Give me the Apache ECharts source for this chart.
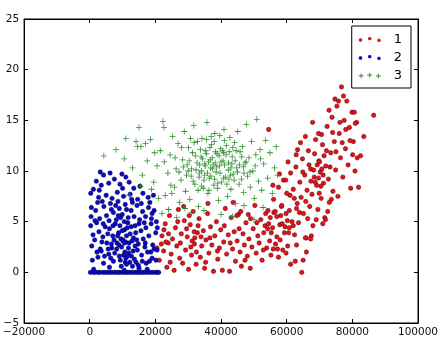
<!DOCTYPE html>
<html><head><meta charset="utf-8">
<script src="https://cdn.jsdelivr.net/npm/echarts@6/dist/echarts.min.js"></script>
<style>html,body{margin:0;padding:0;background:#fff}#c{width:447px;height:344px}</style>
</head><body><div id="c"></div>
<script>
const seriesNames = ['1','2','3'];
const xTicks = [-20000, 0, 20000, 40000, 60000, 80000, 100000];
const yTicks = [-5, 0, 5, 10, 15, 20, 25];

const points1 = [
[20500,2.4],[21200,1.2],[22000,3.6],[22500,2.1],[23000,4.8],[23500,0.5],[23900,2.9],[24300,5.6],[24800,1.8],[25200,3.3],[25700,0.2],[26100,4.4],[26500,2.6],[27000,6.2],[27400,1.4],[27900,3.8],[28300,0.9],[28800,5.1],[29200,2.2],[29700,3.5],[30100,0.3],[30600,4.7],[31000,1.7],[31500,6.0],[31900,2.8],[32400,0.8],[32800,3.9],[33300,5.3],[33700,1.5],[34100,2.6],[34600,4.1],[35000,0.4],[35400,3.2],[35900,5.8],[36300,1.9],[36800,4.5],[37200,2.7],[37700,0.1],[38100,3.6],[38600,5.0],[39000,1.3],[39500,2.4],[39900,4.2],[40400,0.2],[40800,3.0],[41300,6.3],[41700,1.8],[42200,3.7],[42600,0.1],[43100,5.4],[43500,2.3],[44000,4.0],[44400,1.1],[44900,3.1],[45300,5.7],[45800,2.0],[46200,0.6],[46700,3.8],[47100,2.7],[47600,4.9],[48000,1.6],[48500,3.3],[48900,0.4],[49400,2.5],[49800,4.3],[50300,6.6],[50700,1.9],[51200,3.6],[51600,2.9],[52100,5.2],[52500,1.2],[53000,3.9],[53400,4.6],[53900,2.4],[54300,6.1],[54800,3.1],[55200,1.7],[55700,4.4],[56100,5.9],[56600,2.8],[57000,3.5],[57500,1.5],[57900,4.7],[58400,6.5],[58800,2.2],[59300,3.9],[60200,5.1],[61200,0.8],[62000,4.6],[63000,6.3],[64600,0.0],
[31200,3.1],[31800,4.0],[32500,2.0],[33000,4.6],[30800,2.5],[32000,3.4],[54500,4.8],[55000,5.4],[55300,3.9],[54200,4.3],[53600,5.8],[24000,3.8],[23200,3.0],[22600,4.2],[26800,5.0],[44800,5.6],[46000,6.0],[48300,5.7],[43700,6.9],[36000,6.8],[28600,6.5],
[21800,2.8],[24500,1.0],[27600,2.9],[29500,4.3],[33900,3.5],[36600,3.4],[38900,2.1],[41000,4.6],[42800,2.9],[45500,4.3],[47300,1.2],[49000,5.3],[50900,4.9],[52900,2.2],[55900,2.3],[58200,5.6],[60800,4.4],[59800,1.9],[35300,1.0],[30300,5.6],
[56000,7.2],[57000,5.5],[57500,8.4],[58000,3.2],[58500,6.6],[59000,9.1],[59500,4.5],[60000,7.8],[60300,2.6],[60800,6.1],[61200,9.8],[61600,5.0],[62000,8.2],[62400,3.7],[62800,10.4],[63200,6.8],[63600,4.9],[64000,8.9],[64400,7.4],[64800,11.2],[65100,5.8],[65500,9.6],[65900,3.4],[66200,8.1],[66600,12.0],[67000,6.5],[67300,10.2],[67700,7.7],[68000,4.6],[68400,9.4],[68800,13.1],[69100,8.6],[69500,6.2],[69800,11.0],[70200,9.9],[70500,7.3],[70900,12.6],[71200,8.8],[71600,5.4],[71900,10.5],[72300,14.4],[72700,9.2],[73000,6.9],[73400,11.8],[73800,15.3],[74100,8.0],[74500,12.9],[74900,10.1],[75300,16.4],[75600,7.5],[76000,13.7],[76400,11.3],[76700,18.3],[77100,9.4],[77500,15.0],[77900,12.2],[78300,16.9],[78700,10.6],[79100,14.3],[79500,8.3],[79900,15.8],[80300,12.9],[80800,10.0],[81300,14.8],[81900,8.4],[82500,11.5],[83500,13.4],[86500,15.5],[54500,14.1],
[68200,10.1],[68700,8.9],[69300,10.6],[69700,9.3],[70000,10.9],[70400,8.5],[70700,10.2],[71100,9.6],[71400,11.5],[69900,7.8],[68500,11.7],[67400,9.0],[66800,10.6],[65800,7.0],[66400,5.3],[63900,5.9],[62300,7.3],[61000,7.6],[59800,5.8],[64900,9.9],[72100,12.0],[73200,10.4],[74000,13.8],[75000,11.9],[76200,14.8],[75800,16.9],[77300,17.4],[76900,12.8],[78000,14.1],[79300,13.0],[80100,11.6],[73600,7.2],[72500,6.0],[71000,4.8],[69000,5.2],[67500,3.6],[66000,2.0],[65000,1.2],[63000,2.7],[62600,1.1],[60600,3.9],[58600,4.8],[57200,2.3],[56500,6.0],[55800,8.6],[57800,9.7],[60400,10.9],[62900,11.6],[64200,12.8],[65700,13.4],[67900,14.8],[70600,13.6],[72900,16.0],[74700,17.1],[80600,15.8],[80900,14.7],[81500,11.3],[65700,3.4],[67300,3.3],[71800,5.2],[59700,9.1],[63300,12.1],[69700,13.7]
];

const points2 = [
[200,0],[1100,0],[1700,0],[2600,0],[3100,0],[4000,0],[4700,0],[5300,0],[6100,0],[6600,0],[7400,0],[8000,0],[8700,0],[9200,0],[10000,0],[10600,0],[11300,0],[11800,0],[12500,0],[13100,0],[13900,0],[14400,0],[15100,0],[15800,0],[16300,0],[17000,0],[17800,0],[18400,0],[19100,0],[19900,0],[20500,0],[21000,0],
[1200,0.3],[10500,0.2],[15000,0.4],[17500,0.3],[6000,0.5],[13000,0.6],
[800,1.2],[2500,1.5],[4200,0.9],[5800,1.8],[7200,1.1],[9000,1.6],[10800,1.0],[11900,1.9],[13600,1.3],[15800,1.7],[17200,0.9],[19000,1.4],[20200,1.2],[3500,2.1],[8200,2.3],[12200,1.0],[14500,2.2],[16800,2.5],[18600,2.0],[600,2.6],[6600,2.8],[9700,2.5],
[10300,1.7],[11000,1.4],[11500,1.6],[10700,2.0],[10100,3.2],
[1500,3.2],[2800,4.0],[4000,3.5],[5200,2.9],[6000,4.3],[7000,3.6],[7800,4.8],[8800,3.9],[9500,3.3],[10100,3.1],[10600,4.2],[11200,3.6],[12000,2.9],[12600,4.5],[13300,3.4],[14000,3.9],[14800,2.8],[15600,4.1],[16300,3.3],[17100,4.4],[18000,3.6],[19200,2.7],[20100,3.9],[300,4.6],[2100,4.9],[4700,4.5],[5500,3.8],[6700,2.4],[8300,2.9],[9200,4.6],[11600,4.9],[13800,2.6],[15000,4.8],[16900,2.9],[18700,4.8],[3200,2.3],[7400,3.2],[10900,3.0],[12300,3.8],[14300,3.2],[20500,2.2],
[400,5.5],[1800,6.1],[3000,5.3],[4300,6.5],[5100,5.6],[6300,6.8],[7200,5.9],[8100,5.2],[9000,6.3],[9900,5.7],[10800,6.7],[11700,5.4],[12600,6.1],[13500,5.5],[14400,6.6],[15200,5.2],[16100,6.0],[17000,5.5],[17900,6.4],[18800,5.3],[19600,6.1],[20300,5.0],[2400,6.9],[5900,5.1],[8600,7.0],[11200,6.2],[13000,6.9],[15700,6.8],[6600,6.2],[9400,5.4],
[300,7.8],[1100,8.2],[2700,7.4],[3500,8.6],[4200,9.6],[5000,7.6],[5800,8.8],[6800,7.3],[7500,9.2],[8400,7.9],[9200,8.7],[10300,7.5],[11000,9.4],[12300,7.7],[13400,8.3],[14600,7.2],[16200,7.8],[17800,7.4],[2000,9.0],[6200,9.8],[3200,9.9],[9800,9.7],[12000,8.9],[500,6.4],[15300,8.5],[19400,7.6],
[7600,1.9],[8900,2.7],[9300,1.2],[10600,2.9],[11800,2.4],[12700,1.6],[13200,2.1],[14100,1.0],[8500,3.6],[9900,4.1],[11400,4.4],[12900,3.1],[7100,4.6],[5600,2.3],[4500,1.6],[3700,3.0],[2200,2.0],[1000,3.7],[16000,1.1],[18200,1.1],[19600,2.3],[17600,2.0],[6400,1.4],[9600,0.6],[11200,0.8],[14800,0.7],[4100,4.8],[8700,5.6],[10500,5.0],[13800,4.6],[16600,4.9],[19000,5.8],[3800,7.0],[7900,6.6],[10000,8.3],[12800,7.2],[1600,5.1],[18300,6.9],[20600,4.4],[2900,8.1]
];

const points3 = [
[4300,11.5],[8000,12.1],[10500,11.2],[13000,10.3],[14500,12.4],[16000,9.6],[17500,11.0],[18500,13.1],[19500,8.9],[20500,10.5],[21500,12.0],[22600,14.3],[23000,7.6],[23800,9.8],[24500,11.6],[25200,13.4],[25800,8.4],[26300,10.2],[26900,12.7],[27400,6.9],[27800,9.1],[28300,11.1],[28800,13.9],[29200,8.0],[29700,10.6],[30100,12.3],[30500,7.2],[30900,9.5],[31300,11.8],[31700,14.5],[32000,8.7],[32400,10.1],[32800,12.9],[33100,6.5],[33500,9.8],[33900,11.4],[34200,13.2],[34600,8.3],[35000,10.7],[35300,12.0],[35700,14.8],[36000,7.8],[36400,9.3],[36700,11.1],[37100,12.6],[37400,10.2],[37800,8.6],[38100,13.7],[38500,9.9],[38800,11.7],[39200,7.1],[39500,10.5],[39900,12.2],[40200,8.9],[40600,11.0],[40900,14.1],[41300,9.4],[41600,12.5],[42000,7.5],[42300,10.8],[42700,13.3],[43000,8.2],[43400,11.4],[43700,9.7],[44100,12.8],[44400,6.8],[44800,10.3],[45100,13.9],[45500,8.7],[45800,11.9],[46200,9.2],[46500,12.4],[46900,7.9],[47300,10.8],[47700,14.6],[48100,9.5],[48500,11.3],[48900,8.4],[49300,12.9],[49700,10.0],[50100,7.3],[50600,11.6],[50900,15.1],[51400,9.0],[51900,12.1],[52400,8.1],[53000,10.7],[53600,13.0],[54200,9.3],[54900,11.8],[55600,7.8],[56300,10.3],[56800,12.4],[57200,9.6],
[28500,10.4],[29500,9.6],[30300,11.0],[31000,10.2],[31500,9.0],[32200,11.5],[32700,10.8],[33300,9.4],[33700,12.1],[34000,10.0],[34400,11.2],[34800,9.1],[35200,10.5],[35500,11.7],[35900,9.8],[36200,10.9],[36600,12.3],[36900,9.5],[37300,11.3],[37600,10.6],[38000,9.2],[38300,11.9],[38700,10.4],[39000,8.8],[39400,11.5],[39700,9.8],[40000,10.9],[40400,12.0],[40800,9.3],[41100,10.6],[41500,11.6],[41800,8.7],[42200,10.1],[42500,11.9],[42900,9.6],[43300,10.7],[43600,12.3],[44000,9.1],[44300,11.0],[45000,9.9],[45600,10.6],[46300,11.4],[47000,9.8],[47600,10.9],[34100,8.5],[36300,8.1],[38900,8.3],[31800,12.8],[37000,13.4],[41000,13.0],
[22000,5.8],[24000,6.2],[26500,5.4],[29000,6.3],[31000,5.9],[34800,6.1],[40000,5.7],[43500,5.5],[47000,6.6],[50000,5.2],[52800,6.4],[25000,7.8],[21000,7.3],[18800,8.2],[15500,8.5],[12000,7.6],
[15000,14.3],[22300,14.9],[14100,12.9],[15600,12.4],[11000,13.2],
[26000,11.3],[27200,9.9],[28000,12.3],[30700,13.2],[33000,8.1],[35600,13.1],[37900,12.9],[39600,13.5],[42400,9.2],[44600,12.0],[46800,10.4],[48800,9.9],[50400,10.5],[52000,11.2],[24700,8.6],[22700,10.9],[19800,11.8],[17000,12.7],[38200,10.8],[36800,10.3],[35000,9.6],[40800,11.8],[43000,10.3],[33500,10.6],[30000,10.0]
];

const fmt = v => v < 0 ? '\u2212' + Math.abs(v) : String(v);
function oct(cx, cy, r) {
  const k = r * 0.42;
  return 'M' + (cx-k) + ',' + (cy-r) + 'L' + (cx+k) + ',' + (cy-r) + 'L' + (cx+r) + ',' + (cy-k) + 'L' + (cx+r) + ',' + (cy+k) +
    'L' + (cx+k) + ',' + (cy+r) + 'L' + (cx-k) + ',' + (cy+r) + 'L' + (cx-r) + ',' + (cy+k) + 'L' + (cx-r) + ',' + (cy-k) + 'Z';
}
function plus(cx, cy, r) {
  return 'M' + (cx-r) + ',' + (cy-0.5) + 'h' + (2*r) + 'v1h' + (-2*r) + 'Z' +
         'M' + (cx-0.5) + ',' + (cy-r) + 'h1v' + (2*r) + 'h-1Z';
}
const dotsIcon = 'path://' + oct(2, 3.3, 1.7) + oct(11, 2, 1.7) + oct(20, 3.7, 1.7);
const plusIcon = 'path://' + plus(2.5, 3.3, 2.5) + plus(11.5, 2.5, 2.5) + plus(20.5, 3.5, 2.5);
const plusSym = 'path://M0,2.6H6V3.4H0Z M2.6,0H3.4V6H2.6Z';
const font = 'DejaVu Sans';

const chart = echarts.init(document.getElementById('c'), null, {renderer: 'canvas'});
const axisCommon = {
  type: 'value',
  splitLine: {show: false},
  axisLine: {show: true, onZero: false, lineStyle: {color: '#000', width: 1}},
  axisTick: {show: true, inside: true, length: 4, lineStyle: {color: '#000'}},
};
chart.setOption({
  animation: false,
  backgroundColor: '#fff',
  grid: {left: 23, top: 19, right: 29, bottom: 21, show: true, borderColor: '#000', borderWidth: 1},
  xAxis: [
    Object.assign({}, axisCommon, {min: xTicks[0], max: xTicks[xTicks.length-1], interval: 20000, position: 'bottom',
      axisLabel: {formatter: fmt, fontFamily: font, fontSize: 10.5, color: '#111', margin: 4}}),
    Object.assign({}, axisCommon, {min: xTicks[0], max: xTicks[xTicks.length-1], interval: 20000, position: 'top',
      axisLabel: {show: false}})
  ],
  yAxis: [
    Object.assign({}, axisCommon, {min: yTicks[0], max: yTicks[yTicks.length-1], interval: 5, position: 'left',
      axisLabel: {formatter: fmt, fontFamily: font, fontSize: 10.5, color: '#111', margin: 5}}),
    Object.assign({}, axisCommon, {min: yTicks[0], max: yTicks[yTicks.length-1], interval: 5, position: 'right',
      axisLabel: {show: false}})
  ],
  legend: {
    orient: 'vertical', right: 36, top: 26,
    borderColor: '#000', borderWidth: 1, borderRadius: 0,
    padding: [7, 9, 6, 7], itemGap: 5,
    itemWidth: 22, itemHeight: 6,
    textStyle: {fontFamily: font, fontSize: 13, color: '#000', padding: [0, 0, 0, 8]},
    data: [
      {name: seriesNames[0], icon: dotsIcon, itemStyle: {borderWidth: 0}},
      {name: seriesNames[1], icon: dotsIcon, itemStyle: {borderWidth: 0}},
      {name: seriesNames[2], icon: plusIcon, itemStyle: {borderWidth: 0}}
    ]
  },
  series: [
    {name: seriesNames[0], type: 'scatter', data: points1, symbol: 'circle', symbolSize: 4.4,
      itemStyle: {color: '#e3141b', borderColor: '#5a0000', borderWidth: 0.5, opacity: 1}},
    {name: seriesNames[1], type: 'scatter', data: points2, symbol: 'circle', symbolSize: 4.4,
      itemStyle: {color: '#0a0ad0', borderColor: '#000040', borderWidth: 0.5, opacity: 1}},
    {name: seriesNames[2], type: 'scatter', data: points3, symbol: plusSym, symbolSize: 6,
      itemStyle: {color: '#2f8f2f', opacity: 1}}
  ]
});
</script>
</body></html>
